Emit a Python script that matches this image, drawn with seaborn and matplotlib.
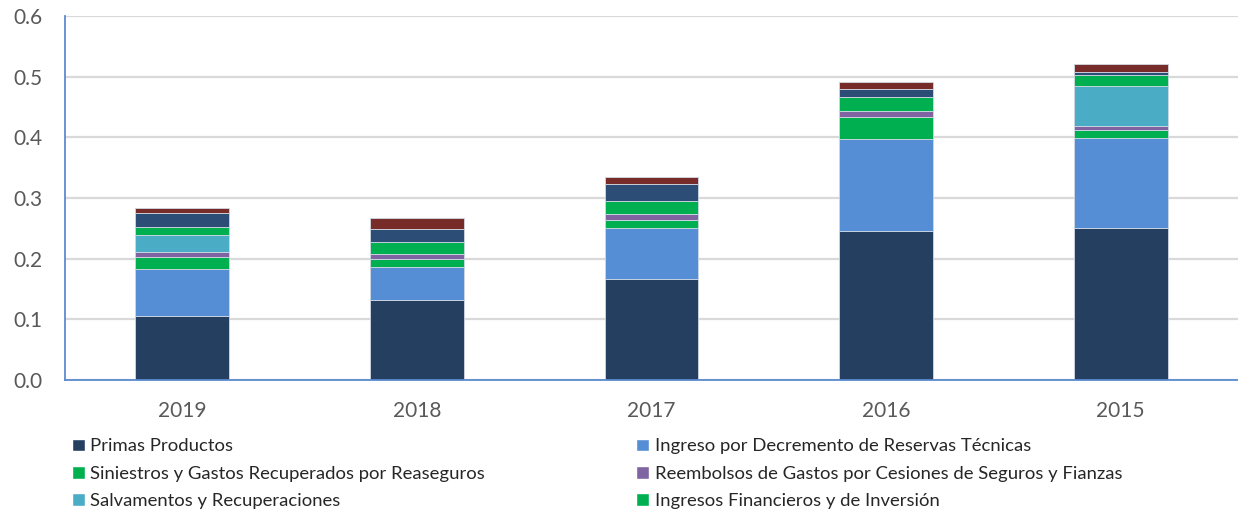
import numpy as np
import matplotlib
matplotlib.use("Agg")
import matplotlib.pyplot as plt
import seaborn as sns
from matplotlib.patches import Patch

anios = ["2019", "2018", "2017", "2016", "2015"]

primas = [0.106, 0.132, 0.167, 0.246, 0.251]
decremento = [0.0775, 0.055, 0.083, 0.1505, 0.1475]
siniestros = [0.020, 0.0125, 0.0145, 0.037, 0.013]
reembolsos = [0.007, 0.009, 0.0095, 0.0105, 0.007]
salvamentos = [0.028, 0.0, 0.0, 0.0, 0.0655]
financieros = [0.013, 0.019, 0.0215, 0.0225, 0.018]
otros_azul = [0.023, 0.022, 0.028, 0.013, 0.0065]
otros_rojo = [0.0083, 0.017, 0.0104, 0.0117, 0.0132]

series = [
    ("Primas Productos", primas, "#253F60"),
    ("Ingreso por Decremento de Reservas Técnicas", decremento, "#558ED5"),
    ("Siniestros y Gastos Recuperados por Reaseguros", siniestros, "#00B050"),
    ("Reembolsos de Gastos por Cesiones de Seguros y Fianzas", reembolsos, "#8064A2"),
    ("Salvamentos y Recuperaciones", salvamentos, "#4BACC6"),
    ("Ingresos Financieros y de Inversión", financieros, "#00B050"),
    ("_otros1", otros_azul, "#2C4D75"),
    ("_otros2", otros_rojo, "#772C2A"),
]

sns.set_style("white")
plt.rcParams["font.family"] = ["Lato", "DejaVu Sans"]

fig = plt.figure(figsize=(12.38, 5.12), dpi=100)
ax = fig.add_axes([0.0525, 0.2578, 0.9475, 0.7109])

base = np.zeros(len(anios))
for nombre, vals, color in series:
    sns.barplot(x=anios, y=vals, bottom=base, color=color, width=0.4,
                order=anios, ax=ax, edgecolor="#D0D8E4", linewidth=0.6,
                saturation=1)
    base = base + np.array(vals)

ax.set_ylim(0, 0.6)
ax.set_xlim(-0.5, 4.5)
ax.set_yticks(np.arange(0, 0.61, 0.1))
ax.set_yticklabels([f"{v:.1f}" for v in np.arange(0, 0.61, 0.1)])
ax.yaxis.grid(True, color="#D9D9D9", linewidth=1.6)
ax.set_axisbelow(True)
for lado in ["top", "right"]:
    ax.spines[lado].set_visible(False)
ax.spines["left"].set_color("#5B8BD0")
ax.spines["bottom"].set_color("#5B8BD0")
ax.spines["left"].set_linewidth(1.3)
ax.spines["bottom"].set_linewidth(1.3)
ax.tick_params(axis="both", length=0, labelsize=15, labelcolor="#595959")
ax.tick_params(axis="x", pad=15)
ax.tick_params(axis="y", pad=16)
ax.set_xlabel("")
ax.set_ylabel("")

orden = [0, 2, 4, 1, 3, 5]
handles = [Patch(facecolor=series[i][2], label=series[i][0]) for i in orden]
fig.legend(handles=handles, ncol=2, loc="upper left", bbox_to_anchor=(0.052, 0.158),
           frameon=False, fontsize=13.3, handlelength=0.7, handleheight=0.7,
           handletextpad=0.3, labelspacing=0.6, columnspacing=8.2,
           borderaxespad=0)

fig.savefig("out.png", dpi=100)
